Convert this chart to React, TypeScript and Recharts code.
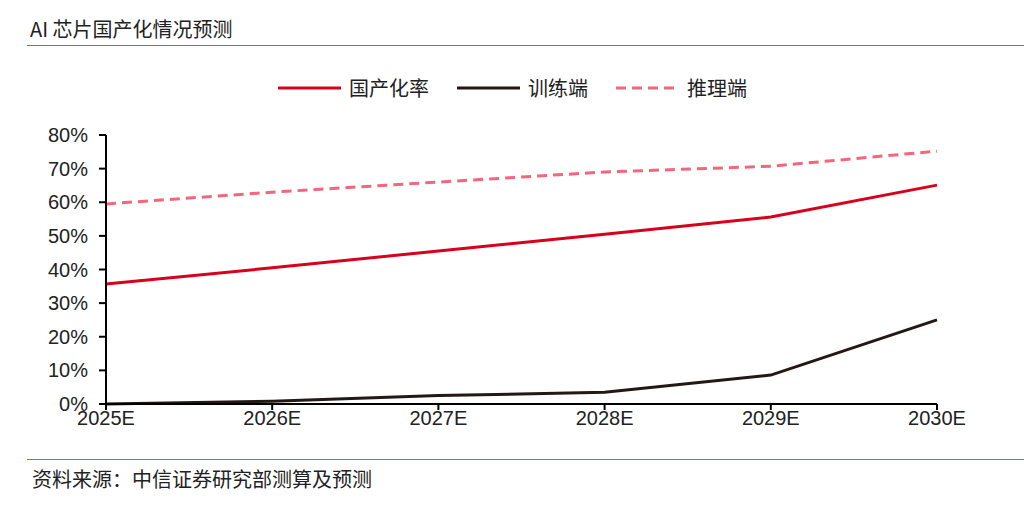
import React from 'react';
import { LineChart, Line, XAxis, YAxis } from 'recharts';

const years = ['2025E', '2026E', '2027E', '2028E', '2029E', '2030E'];
const localizationRate = [0.357, 0.405, 0.455, 0.505, 0.556, 0.651];
const trainingSide = [0.0, 0.008, 0.025, 0.035, 0.086, 0.25];
const inferenceSide = [0.595, 0.63, 0.66, 0.69, 0.707, 0.752];
const yTicks = [0, 0.1, 0.2, 0.3, 0.4, 0.5, 0.6, 0.7, 0.8];

const seriesInfo = [
  { key: 'rate', name: '国产化率', color: '#d9001b', dash: undefined as string | undefined },
  { key: 'train', name: '训练端', color: '#231815', dash: undefined as string | undefined },
  { key: 'infer', name: '推理端', color: '#f2677b', dash: '10 6' },
];

const data = years.map((year, i) => ({
  year,
  rate: localizationRate[i],
  train: trainingSide[i],
  infer: inferenceSide[i],
}));

const CJK = '"Noto Sans CJK SC", "Noto Sans", sans-serif';
const LATIN = '"Liberation Sans", Arial, sans-serif';

// legend drawn outside the chart so it doesn't push the plot down
const ChartLegend = () => (
  <div style={{ position: 'absolute', left: 278, top: 76, display: 'flex', alignItems: 'center' }}>
    {seriesInfo.map((s, i) => (
      <div key={s.key} style={{ display: 'flex', alignItems: 'center', marginRight: i < 2 ? 28 : 0 }}>
        <svg width={63} height={10} style={{ display: 'block' }}>
          <line x1={0} y1={5} x2={63} y2={5} stroke={s.color} strokeWidth={3} strokeDasharray={s.dash} />
        </svg>
        <span style={{ marginLeft: 8, fontFamily: CJK, fontSize: 20, color: '#222', lineHeight: '24px' }}>
          {s.name}
        </span>
      </div>
    ))}
  </div>
);

export default function App() {
  return (
    <div style={{ position: 'absolute', left: 0, top: 0, width: 1024, height: 509, background: '#fff' }}>
      <div
        style={{
          position: 'absolute',
          left: 30,
          top: 16,
          fontFamily: CJK,
          fontSize: 20,
          color: '#222',
          lineHeight: '26px',
        }}
      >
        AI 芯片国产化情况预测
      </div>
      <div style={{ position: 'absolute', left: 27, top: 45, width: 997, height: 1, background: '#d9534f' }} />
      <div style={{ position: 'absolute', left: 27, top: 459, width: 997, height: 1, background: '#d9534f' }} />
      <div
        style={{
          position: 'absolute',
          left: 32,
          top: 466,
          fontFamily: CJK,
          fontSize: 20,
          color: '#222',
          lineHeight: '26px',
        }}
      >
        资料来源：中信证券研究部测算及预测
      </div>
      <div style={{ position: 'absolute', left: 0, top: 0 }}>
        <LineChart width={1024} height={509} data={data} margin={{ top: 135, right: 87, left: 0, bottom: 0 }}>
          <XAxis
            dataKey="year"
            height={105}
            axisLine={{ stroke: '#000', strokeWidth: 2 }}
            tickLine={{ stroke: '#000', strokeWidth: 2 }}
            tickSize={6}
            tickMargin={1}
            tick={{ fill: '#222', fontSize: 20, fontFamily: LATIN }}
            interval={0}
          />
          <YAxis
            width={106}
            domain={[0, 0.8]}
            ticks={yTicks}
            interval={0}
            axisLine={{ stroke: '#000', strokeWidth: 2 }}
            tickLine={{ stroke: '#000', strokeWidth: 2 }}
            tickSize={7}
            tickMargin={11}
            tick={{ fill: '#222', fontSize: 20, fontFamily: LATIN }}
            tickFormatter={(v: number) => `${Math.round(v * 100)}%`}
          />
          {seriesInfo.map((s) => (
            <Line
              key={s.key}
              type="linear"
              dataKey={s.key}
              name={s.name}
              stroke={s.color}
              strokeWidth={3}
              strokeDasharray={s.dash}
              dot={false}
              activeDot={false}
              isAnimationActive={false}
            />
          ))}
        </LineChart>
      </div>
      <ChartLegend />
    </div>
  );
}
